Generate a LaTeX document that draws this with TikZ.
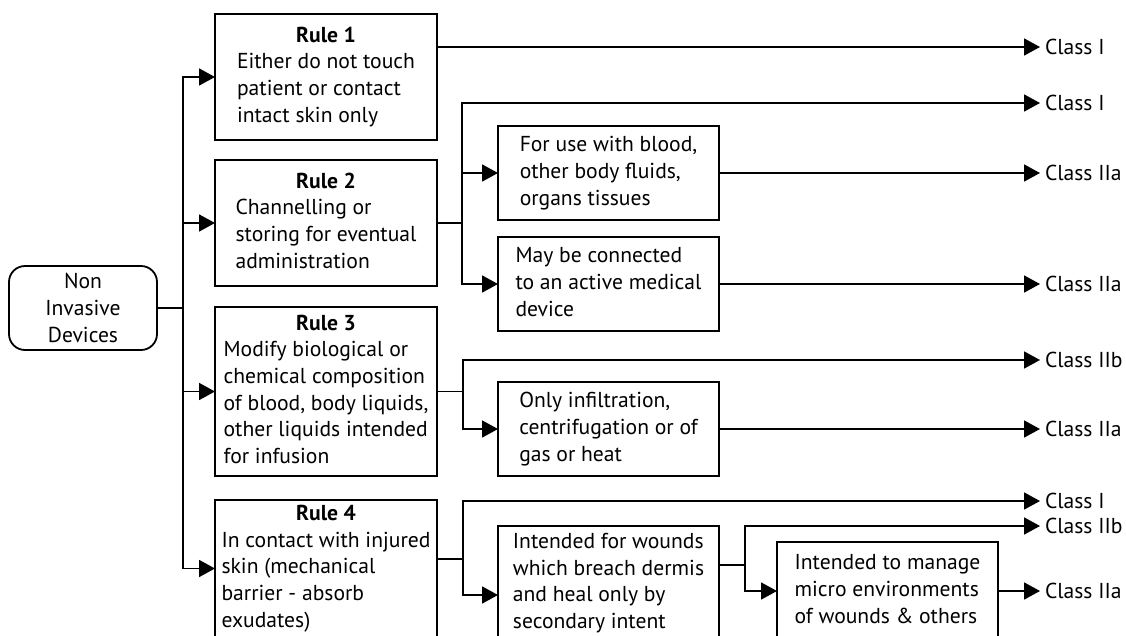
\documentclass[tikz,border=0pt]{standalone}
\usepackage{fontspec}
\setmainfont{PT Sans}
\usetikzlibrary{arrows.meta}
\newcommand{\boxlines}[2]{\begin{tabular}{@{}l@{}}\multicolumn{1}{@{}c@{}}{\bfseries #1}\\#2\end{tabular}}
\newcommand{\plainlines}[1]{\begin{tabular}{@{}l@{}}#1\end{tabular}}
\begin{document}
\begin{tikzpicture}[x=1pt,y=-1pt,
  line width=1.8pt,
  txt/.style={font=\fontsize{21.6}{26.7}\selectfont},
  box/.style={txt, draw, line width=1.8pt, inner sep=0pt, outer sep=0pt, anchor=north west},
  arr/.style={-{Triangle[length=16pt,width=17pt]}},
  cls/.style={txt, anchor=west, inner xsep=5pt, inner ysep=0pt, outer sep=0pt, text height=14.8pt, text depth=0pt},
]
\useasboundingbox (0,0) rectangle (1126,635);
\clip (0,0) rectangle (1126,635);

% root
\node[txt, draw, line width=1.8pt, rounded corners=16pt, minimum width=148pt, minimum height=84pt,
      align=center, inner sep=0pt, outer sep=0pt]
  (non) at (83,308) {Non\\Invasive\\Devices};

% rule boxes
\node[box, minimum width=222pt, minimum height=126pt] (r1) at (215,14)
  {\boxlines{Rule 1}{Either do not touch\\patient or contact\\intact skin only}};
\node[box, minimum width=222pt, minimum height=126pt] (r2) at (215,160)
  {\boxlines{Rule 2}{Channelling or\\storing for eventual\\administration}};
\node[box, minimum width=222pt, minimum height=169pt] (r3) at (215,307)
  {\boxlines{Rule 3}{Modify biological or\\chemical composition\\of blood, body liquids,\\other liquids intended\\for infusion}};
\node[box, minimum width=222pt, minimum height=137pt] (r4) at (215,500)
  {\boxlines{Rule 4}{In contact with injured\\skin (mechanical\\barrier - absorb\\exudates)}};

% sub-condition boxes
\node[box, minimum width=221pt, minimum height=94pt] (b21) at (498,126)
  {\plainlines{For use with blood,\\other body fluids,\\organs tissues}};
\node[box, minimum width=221pt, minimum height=94pt] (b22) at (498,237)
  {\plainlines{May be connected\\to an active medical\\device}};
\node[box, minimum width=221pt, minimum height=94pt] (b31) at (498,382)
  {\plainlines{Only infiltration,\\centrifugation or of\\gas or heat}};
\node[box, minimum width=221pt, minimum height=114pt] (b41) at (498,526)
  {\plainlines{Intended for wounds\\which breach dermis\\and heal only by\\secondary intent}};
\node[box, minimum width=221pt, minimum height=98pt] (b42) at (777,542)
  {\plainlines{Intended to manage\\micro environments\\of wounds \& others}};

% class labels
\node[cls] (c1) at (1040,47)  {Class I};
\node[cls] (c2) at (1040,103) {Class I};
\node[cls] (c3) at (1040,173) {Class IIa};
\node[cls] (c4) at (1040,284) {Class IIa};
\node[cls] (c5) at (1040,360) {Class IIb};
\node[cls] (c6) at (1040,429) {Class IIa};
\node[cls] (c7) at (1040,501) {Class I};
\node[cls] (c8) at (1040,526) {Class IIb};
\node[cls] (c9) at (1040,591) {Class IIa};

% junction points
\coordinate (j0) at (183,308);
\coordinate (j2) at (462,223);
\coordinate (j3) at (463,391.5);
\coordinate (j4) at (463,559);
\coordinate (a4) at (498,595);
\coordinate (j5) at (745,565);

% root to rules
\draw (non.east) -- (j0);
\draw[arr] (j0) |- (r1.west);
\draw[arr] (j0) |- (r2.west);
\draw[arr] (j0) |- (r3.west);
\draw[arr] (j0) |- (r4.west);

% rule 1
\draw[arr] (c1.west -| r1.east) -- (c1.west);

% rule 2
\draw (r2.east) -- (j2);
\draw[arr] (j2) |- (c2.west);
\draw[arr] (j2) |- (b21.west);
\draw[arr] (j2) |- (b22.west);
\draw[arr] (b21.east) -- (c3.west);
\draw[arr] (b22.east) -- (c4.west);

% rule 3
\draw (r3.east) -- (j3);
\draw[arr] (j3) |- (c5.west);
\draw[arr] (j3) |- (b31.west);
\draw[arr] (b31.east) -- (c6.west);

% rule 4
\draw (j4 -| r4.east) -- (j4);
\draw[arr] (j4) |- (c7.west);
\draw[arr] (j4) |- (a4);
\draw (j5 -| b41.east) -- (j5);
\draw[arr] (j5) |- (c8.west);
\draw[arr] (j5) |- (b42.west);
\draw[arr] (b42.east) -- (c9.west);
\end{tikzpicture}
\end{document}
